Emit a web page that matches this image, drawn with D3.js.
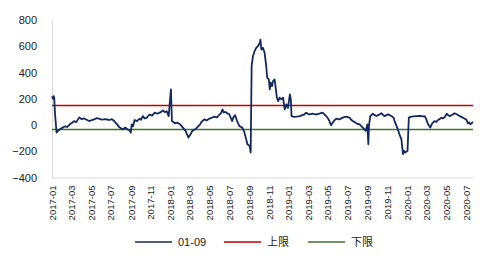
<!DOCTYPE html>
<html>
<head>
<meta charset="utf-8">
<script src="https://cdn.jsdelivr.net/npm/d3@7"></script>
<style>
  body { margin: 0; background: #fff; }
  svg { font-family: "Liberation Sans", Arial, sans-serif; }
</style>
</head>
<body>
<script>
// Chart size
var width = 493;
var height = 264;

// spread series 01-09
var dates = [
  "2017-01-01", "2017-01-04", "2017-01-06", "2017-01-08", "2017-01-10", "2017-01-15", "2017-01-20", "2017-01-25",
  "2017-02-03", "2017-02-10", "2017-02-17", "2017-02-25", "2017-03-03", "2017-03-10", "2017-03-17", "2017-03-26",
  "2017-04-02", "2017-04-10", "2017-04-18", "2017-04-26", "2017-05-04", "2017-05-11", "2017-05-18", "2017-05-26",
  "2017-06-04", "2017-06-12", "2017-06-20", "2017-06-27", "2017-07-05", "2017-07-12", "2017-07-21",
  "2017-07-28", "2017-08-06", "2017-08-16", "2017-08-22", "2017-08-28", "2017-09-01",
  "2017-09-04", "2017-09-08", "2017-09-13", "2017-09-20", "2017-09-28", "2017-10-03", "2017-10-08", "2017-10-14", "2017-10-20", "2017-10-29",
  "2017-11-06", "2017-11-14", "2017-11-22", "2017-11-29", "2017-12-04", "2017-12-09", "2017-12-15", "2017-12-21", "2017-12-27", "2018-01-03",
  "2018-01-06", "2018-01-15", "2018-01-22", "2018-01-31", "2018-02-09", "2018-02-17", "2018-02-26",
  "2018-03-04", "2018-03-10", "2018-03-19", "2018-03-28", "2018-04-03", "2018-04-07", "2018-04-16", "2018-04-23",
  "2018-05-01", "2018-05-09", "2018-05-17", "2018-05-25", "2018-06-02", "2018-06-07", "2018-06-11", "2018-06-15", "2018-06-20", "2018-06-26", "2018-07-02",
  "2018-07-11", "2018-07-15", "2018-07-20", "2018-07-26", "2018-08-02", "2018-08-11", "2018-08-17", "2018-08-23",
  "2018-08-27", "2018-09-03", "2018-09-06", "2018-09-09", "2018-09-13", "2018-09-18",
  "2018-09-23", "2018-09-28", "2018-10-04", "2018-10-06", "2018-10-09", "2018-10-14",
  "2018-10-19", "2018-10-24", "2018-10-27", "2018-11-01", "2018-11-04", "2018-11-07",
  "2018-11-11", "2018-11-14", "2018-11-19", "2018-11-22", "2018-11-26", "2018-11-30",
  "2018-12-04", "2018-12-10", "2018-12-15", "2018-12-20", "2018-12-25", "2018-12-30",
  "2019-01-05", "2019-01-08", "2019-01-10", "2019-01-18", "2019-01-26", "2019-02-05", "2019-02-12", "2019-02-19",
  "2019-02-24", "2019-03-01", "2019-03-06", "2019-03-16", "2019-03-26", "2019-04-06", "2019-04-16", "2019-04-27",
  "2019-05-02", "2019-05-07", "2019-05-12", "2019-05-17", "2019-05-22", "2019-05-28", "2019-06-07", "2019-06-17",
  "2019-06-28", "2019-07-08", "2019-07-13", "2019-07-18", "2019-07-24", "2019-07-29", "2019-08-08", "2019-08-18",
  "2019-08-27", "2019-09-01", "2019-09-04", "2019-09-06", "2019-09-10", "2019-09-18",
  "2019-09-24", "2019-09-29", "2019-10-09", "2019-10-14", "2019-10-19", "2019-10-24", "2019-11-04", "2019-11-14",
  "2019-11-21", "2019-11-24", "2019-11-30", "2019-12-04", "2019-12-09", "2019-12-15",
  "2019-12-20", "2019-12-23", "2019-12-27", "2020-01-03", "2020-01-07", "2020-01-15",
  "2020-01-23", "2020-01-31", "2020-02-10", "2020-02-18", "2020-02-25", "2020-03-01", "2020-03-05", "2020-03-13", "2020-03-19",
  "2020-03-26", "2020-04-01", "2020-04-06", "2020-04-11", "2020-04-16", "2020-04-21", "2020-04-27", "2020-05-03", "2020-05-07", "2020-05-12",
  "2020-05-20", "2020-05-27", "2020-06-04", "2020-06-12", "2020-06-20", "2020-06-28", "2020-07-03", "2020-07-07", "2020-07-11", "2020-07-15", "2020-07-19", "2020-07-23"
];
var spread = [
  218, 200, 220, 205, 96, -57, -45, -33,
  -20, -10, -15, 5, 15, 30, 22, 58,
  45, 50, 40, 30, 38, 43, 52, 48,
  40, 45, 42, 38, 44, 30, 5,
  -18, -33, -20, -33, -40, -58,
  5, -10, 38, 30, 48, 40, 68, 50, 55, 80,
  72, 94, 86, 94, 100, 112, 98, 105, 68, 271,
  30, 13, 18, 5, -20, -45, -96,
  -72, -45, -33, -10, 5, 23, 43, 35,
  48, 55, 64, 58, 80, 92, 119, 95, 100, 88, 82,
  30, 60, 75, 30, -7, -20, -50, -108,
  -147, -160, -210, 448, 524, 562,
  588, 600, 625, 651, 575, 588,
  550, 448, 360, 347, 271, 322,
  296, 334, 347, 284, 208, 182,
  208, 195, 208, 119, 157, 130,
  233, 195, 68, 62, 64, 68, 75, 81,
  94, 85, 81, 86, 80, 86, 94, 68,
  52, 30, -2, 18, 35, 48, 43, 56,
  64, 56, 40, 30, 22, 13, 5, -20,
  -45, 5, -147, -7, 68, 86,
  75, 68, 81, 90, 78, 68, 81, 68,
  56, 30, -7, -33, -71, -108,
  -222, -197, -210, -197, 56, 64,
  66, 68, 70, 66, 68, 43, 13, -20, 13,
  30, 24, 38, 45, 56, 50, 61, 86, 75, 68,
  78, 90, 80, 68, 58, 48, 38, 13, 20, 5, 15, 23
];

// upper / lower limits
var upperLimit = 148;
var lowerLimit = -35;

// axis ticks
var yTicks = [-400, -200, 0, 200, 400, 600, 800];
var xTickLabels = [
  "2017-01", "2017-03", "2017-05", "2017-07", "2017-09", "2017-11",
  "2018-01", "2018-03", "2018-05", "2018-07", "2018-09", "2018-11",
  "2019-01", "2019-03", "2019-05", "2019-07", "2019-09", "2019-11",
  "2020-01", "2020-03", "2020-05", "2020-07"
];

// legend
var seriesNames = ["01-09", "上限", "下限"];
var seriesColors = ["#13285c", "#c00000", "#4a6b32"];

var parseDate = d3.timeParse("%Y-%m-%d");
var parseMonth = d3.timeParse("%Y-%m");
var data = dates.map(function (d, i) { return { date: parseDate(d), value: spread[i] }; });

var svg = d3.select("body")
    .append("svg")
    .attr("width", width)
    .attr("height", height);

var xScale = d3.scaleTime()
    .domain([parseDate("2017-01-01"), parseDate("2020-07-23")])
    .range([52, 473]);

var yScale = d3.scaleLinear()
    .domain([-400, 800])
    .range([177.5, 20]);

// y axis
var yAxis = d3.axisLeft(yScale)
    .tickValues(yTicks)
    .tickSize(0)
    .tickPadding(15)
    .tickFormat(d3.format("d"));

var gy = svg.append("g")
    .attr("transform", "translate(52,0)")
    .call(yAxis);
gy.select(".domain").attr("stroke", "#d9d9d9");
gy.selectAll("text")
    .attr("font-size", 11)
    .attr("fill", "#222")
    .attr("font-family", "Liberation Sans, Arial, sans-serif");

// x axis
var xAxis = d3.axisBottom(xScale)
    .tickValues(xTickLabels.map(parseMonth))
    .tickSize(0)
    .tickPadding(8)
    .tickFormat(d3.timeFormat("%Y-%m"));

var gx = svg.append("g")
    .attr("transform", "translate(0,177.5)")
    .call(xAxis);
gx.select(".domain").attr("stroke", "#d9d9d9");
gx.selectAll("text")
    .attr("font-size", 9.5)
    .attr("fill", "#222")
    .attr("font-family", "Liberation Sans, Arial, sans-serif")
    .attr("transform", "rotate(-90)")
    .attr("text-anchor", "end")
    .attr("x", -8)
    .attr("y", 0)
    .attr("dy", "0.35em");

// limit lines
svg.append("line")
    .attr("x1", xScale.range()[0])
    .attr("x2", xScale.range()[1])
    .attr("y1", yScale(upperLimit))
    .attr("y2", yScale(upperLimit))
    .attr("stroke", seriesColors[1])
    .attr("stroke-width", 1.5);

svg.append("line")
    .attr("x1", xScale.range()[0])
    .attr("x2", xScale.range()[1])
    .attr("y1", yScale(lowerLimit))
    .attr("y2", yScale(lowerLimit))
    .attr("stroke", seriesColors[2])
    .attr("stroke-width", 1.5);

// series line
var line = d3.line()
    .x(function (d) { return xScale(d.date); })
    .y(function (d) { return yScale(d.value); });

svg.append("path")
    .datum(data)
    .attr("fill", "none")
    .attr("stroke", seriesColors[0])
    .attr("stroke-width", 1.8)
    .attr("stroke-linejoin", "round")
    .attr("d", line);

// legend
var legendX = [135, 224, 308];
var legend = svg.append("g");
seriesNames.forEach(function (name, i) {
    legend.append("line")
        .attr("x1", legendX[i])
        .attr("x2", legendX[i] + 37)
        .attr("y1", 242)
        .attr("y2", 242)
        .attr("stroke", seriesColors[i])
        .attr("stroke-width", 1.5);
    legend.append("text")
        .attr("x", legendX[i] + 43)
        .attr("y", 242)
        .attr("dy", "0.35em")
        .attr("font-size", 11)
        .attr("fill", "#222")
        .attr("font-family", i === 0 ? "Liberation Sans, Arial, sans-serif" : "Noto Sans CJK SC, sans-serif")
        .text(name);
});
</script>
</body>
</html>
